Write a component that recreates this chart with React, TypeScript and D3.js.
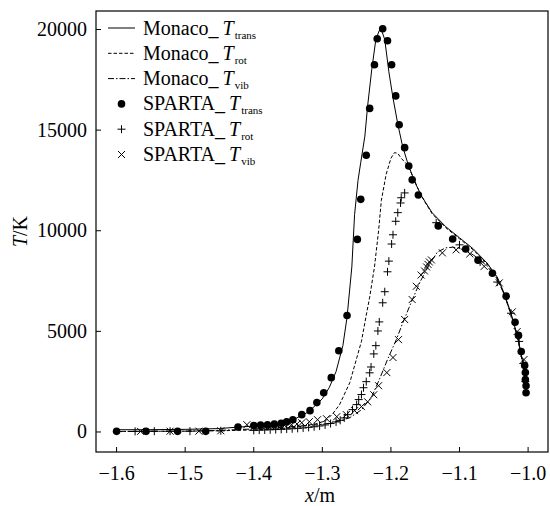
import React from 'react';
import * as d3 from 'd3';

// values: [x (m), T (K)]
const monacoTrans = [
  [-1.6, 110], [-1.55, 115], [-1.5, 130], [-1.45, 170], [-1.42, 250], [-1.4, 290], [-1.38, 350],
  [-1.36, 460], [-1.34, 650], [-1.32, 1000], [-1.3, 1650], [-1.29, 2200], [-1.28, 3000],
  [-1.27, 4300], [-1.264, 5700], [-1.257, 8200], [-1.253, 10800], [-1.248, 12500], [-1.244, 13400],
  [-1.238, 14700], [-1.234, 16200], [-1.228, 18000], [-1.222, 19500], [-1.217, 19950],
  [-1.213, 19900], [-1.209, 19500], [-1.203, 17900], [-1.197, 16600], [-1.19, 15300],
  [-1.183, 14200], [-1.175, 13300], [-1.165, 12400], [-1.155, 11700], [-1.14, 10900],
  [-1.12, 10200], [-1.1, 9650], [-1.08, 9100], [-1.06, 8400], [-1.045, 7700], [-1.035, 6900],
  [-1.025, 5900], [-1.015, 4700], [-1.008, 3500], [-1.004, 2600], [-1.002, 1900],
];

const monacoRot = [
  [-1.6, 30], [-1.5, 40], [-1.45, 60], [-1.4, 100], [-1.36, 170], [-1.33, 280], [-1.31, 400],
  [-1.295, 560], [-1.285, 900], [-1.275, 1350], [-1.26, 2450], [-1.248, 3900], [-1.243, 4500],
  [-1.236, 5800], [-1.231, 6700], [-1.224, 8200], [-1.218, 10000], [-1.214, 11500],
  [-1.207, 12800], [-1.2, 13600], [-1.195, 13880], [-1.19, 13850], [-1.185, 13600],
  [-1.178, 13350], [-1.17, 12850], [-1.16, 12050], [-1.15, 11400], [-1.14, 10850],
  [-1.12, 10150], [-1.1, 9600], [-1.08, 9050], [-1.06, 8350], [-1.045, 7650], [-1.035, 6850],
  [-1.025, 5850], [-1.015, 4650], [-1.008, 3450], [-1.004, 2550], [-1.002, 1900],
];

const monacoVib = [
  [-1.6, 20], [-1.5, 40], [-1.45, 80], [-1.4, 150], [-1.35, 250], [-1.3, 380], [-1.285, 460],
  [-1.27, 600], [-1.26, 710], [-1.243, 1100], [-1.228, 1750], [-1.217, 2600], [-1.205, 3600],
  [-1.192, 4600], [-1.183, 5400], [-1.173, 6230], [-1.158, 7430], [-1.144, 8330],
  [-1.132, 8950], [-1.12, 9150], [-1.11, 9180], [-1.1, 9120], [-1.09, 9000], [-1.08, 8800],
  [-1.07, 8550], [-1.06, 8250], [-1.045, 7600], [-1.035, 6850], [-1.025, 5850],
  [-1.015, 4650], [-1.008, 3450], [-1.004, 2550], [-1.002, 1900],
];

const spartaTrans = [
  [-1.6, 30], [-1.557, 30], [-1.511, 30], [-1.47, 30], [-1.423, 250], [-1.4, 320], [-1.39, 340],
  [-1.38, 360], [-1.37, 390], [-1.36, 430], [-1.352, 500], [-1.343, 610], [-1.33, 860],
  [-1.318, 1060], [-1.308, 1460], [-1.298, 1950], [-1.287, 2700], [-1.276, 4040],
  [-1.264, 5790], [-1.249, 9570], [-1.244, 11560], [-1.236, 13750], [-1.231, 16080],
  [-1.224, 18250], [-1.22, 19540], [-1.212, 20040], [-1.205, 19440], [-1.199, 18250],
  [-1.193, 16700], [-1.188, 15270], [-1.18, 14130], [-1.174, 13220], [-1.169, 12530],
  [-1.16, 11780], [-1.131, 10240], [-1.11, 9590], [-1.091, 9090], [-1.073, 8540],
  [-1.052, 7890], [-1.032, 6750], [-1.019, 5450], [-1.014, 4800], [-1.01, 4000],
  [-1.005, 3300], [-1.004, 2950], [-1.004, 2600], [-1.003, 2300], [-1.003, 1950],
];

const spartaRot = [
  [-1.573, 30], [-1.545, 40], [-1.522, 40], [-1.493, 40], [-1.448, 60],
  [-1.4, 80], [-1.392, 90], [-1.384, 100], [-1.376, 110], [-1.368, 120], [-1.36, 130],
  [-1.352, 145], [-1.344, 160], [-1.336, 180], [-1.328, 200], [-1.32, 230], [-1.312, 260],
  [-1.304, 300], [-1.296, 350], [-1.288, 420], [-1.28, 500], [-1.274, 580], [-1.268, 700],
  [-1.263, 860], [-1.256, 1110], [-1.25, 1360], [-1.247, 1610], [-1.243, 1860], [-1.24, 2200],
  [-1.236, 2500], [-1.231, 2940], [-1.229, 3230], [-1.225, 3880], [-1.222, 4290],
  [-1.219, 5020], [-1.217, 5470], [-1.212, 6420], [-1.209, 6970], [-1.205, 7960],
  [-1.203, 8490], [-1.199, 9340], [-1.197, 9800], [-1.193, 10470], [-1.19, 10900],
  [-1.186, 11380], [-1.185, 11640], [-1.18, 11880],
  [-1.134, 10400], [-1.1, 9300], [-1.07, 8450], [-1.045, 7450], [-1.025, 5900],
  [-1.013, 4500], [-1.007, 3400], [-1.004, 2500],
];

const spartaVib = [
  [-1.565, 30], [-1.522, 40], [-1.48, 40], [-1.448, 60], [-1.41, 360],
  [-1.395, 300], [-1.385, 290], [-1.375, 300], [-1.365, 310], [-1.355, 330], [-1.345, 360],
  [-1.337, 400], [-1.33, 460], [-1.319, 510], [-1.307, 610], [-1.294, 660], [-1.279, 760],
  [-1.265, 860], [-1.253, 1060], [-1.243, 1260], [-1.234, 1500], [-1.225, 1850],
  [-1.218, 2300], [-1.206, 2950], [-1.197, 3700], [-1.189, 4590], [-1.18, 5590],
  [-1.169, 6580], [-1.163, 7240], [-1.156, 7800], [-1.151, 8000], [-1.148, 8200],
  [-1.146, 8330], [-1.144, 8450], [-1.141, 8550], [-1.125, 8900], [-1.105, 9050],
  [-1.085, 8850], [-1.064, 8230], [-1.042, 7410], [-1.023, 5970], [-1.016, 4990],
  [-1.006, 3600],
];

const xTicks = [-1.6, -1.5, -1.4, -1.3, -1.2, -1.1, -1.0];
const yTicks = [0, 5000, 10000, 15000, 20000];

const legendItems = [
  { name: 'Monaco_', sub: 'trans', kind: 'solid' },
  { name: 'Monaco_', sub: 'rot', kind: 'dash' },
  { name: 'Monaco_', sub: 'vib', kind: 'dashdot' },
  { name: 'SPARTA_', sub: 'trans', kind: 'dot' },
  { name: 'SPARTA_', sub: 'rot', kind: 'plus' },
  { name: 'SPARTA_', sub: 'vib', kind: 'cross' },
];

const W = 550;
const H = 506;
const margin = { left: 96, right: 2, top: 11, bottom: 54 };
const serif = { fontFamily: "'Liberation Serif'" };

const dashes: Record<string, string | undefined> = {
  solid: undefined,
  dash: '3.5,2',
  dashdot: '6,2,1.5,2',
};

const Plus = ({ cx, cy }: { cx: number; cy: number }) => (
  <path d={`M${cx - 4},${cy}H${cx + 4}M${cx},${cy - 4}V${cy + 4}`} stroke="#000" strokeWidth={1} />
);
const Cross = ({ cx, cy }: { cx: number; cy: number }) => (
  <path d={`M${cx - 3.5},${cy - 3.5}L${cx + 3.5},${cy + 3.5}M${cx - 3.5},${cy + 3.5}L${cx + 3.5},${cy - 3.5}`} stroke="#000" strokeWidth={1} />
);

export default function App() {
  const x = d3.scaleLinear().domain([-1.63, -0.971]).range([margin.left, W - margin.right]);
  const y = d3.scaleLinear().domain([-995, 20920]).range([H - margin.bottom, margin.top]);
  const line = d3.line<number[]>().x((d) => x(d[0])).y((d) => y(d[1]));

  const x0 = margin.left;
  const x1 = W - margin.right;
  const y0 = H - margin.bottom;
  const y1 = margin.top;

  return (
    <svg width={W} height={H} style={{ position: 'absolute', left: 0, top: 0, background: '#fff' }}>
      {/* lines */}
      {[
        { data: monacoTrans, kind: 'solid' },
        { data: monacoRot, kind: 'dash' },
        { data: monacoVib, kind: 'dashdot' },
      ].map((s, i) => (
        <path key={i} d={line(s.data) || ''} fill="none" stroke="#000" strokeWidth={1} strokeDasharray={dashes[s.kind]} />
      ))}

      {/* SPARTA markers */}
      {spartaVib.map((d, i) => <Cross key={'v' + i} cx={x(d[0])} cy={y(d[1])} />)}
      {spartaRot.map((d, i) => <Plus key={'r' + i} cx={x(d[0])} cy={y(d[1])} />)}
      {spartaTrans.map((d, i) => <circle key={'t' + i} cx={x(d[0])} cy={y(d[1])} r={3.8} fill="#000" />)}

      {/* frame */}
      <rect x={x0} y={y1} width={x1 - x0} height={y0 - y1} fill="none" stroke="#000" strokeWidth={1.2} />

      {/* x axis */}
      {xTicks.map((t) => (
        <g key={t}>
          <line x1={x(t)} x2={x(t)} y1={y0} y2={y0 - 5} stroke="#000" />
          <text x={x(t)} y={y0 + 28} textAnchor="middle" fontSize={20} style={serif}>
            {d3.format('.1f')(t).replace('-', '\u2212')}
          </text>
        </g>
      ))}
      <text x={(x0 + x1) / 2 - 2} y={H - 4} textAnchor="middle" fontSize={20} style={serif}>
        <tspan fontStyle="italic">x</tspan>/m
      </text>

      {/* y axis */}
      {yTicks.map((t) => (
        <g key={t}>
          <line x1={x0} x2={x0 + 5} y1={y(t)} y2={y(t)} stroke="#000" />
          <text x={x0 - 9} y={y(t) + 6.5} textAnchor="end" fontSize={20} style={serif}>{t}</text>
        </g>
      ))}
      <text transform={`translate(27,${(y0 + y1) / 2}) rotate(-90)`} textAnchor="middle" fontSize={20} style={serif}>
        <tspan fontStyle="italic">T</tspan>/K
      </text>

      {/* legend */}
      {legendItems.map((it, i) => {
        const cy = 28 + i * 25.3;
        const lx0 = 108;
        const lx1 = 135;
        let marker;
        if (it.kind === 'dot') marker = <circle cx={(lx0 + lx1) / 2} cy={cy} r={3.8} fill="#000" />;
        else if (it.kind === 'plus') marker = <Plus cx={(lx0 + lx1) / 2} cy={cy} />;
        else if (it.kind === 'cross') marker = <Cross cx={(lx0 + lx1) / 2} cy={cy} />;
        else marker = <line x1={lx0} x2={lx1} y1={cy} y2={cy} stroke="#000" strokeDasharray={dashes[it.kind]} />;
        return (
          <g key={i}>
            {marker}
            <text x={143} y={cy + 6.5} fontSize={20} style={serif}>
              {it.name}
              <tspan fontStyle="italic" dx={4}>T</tspan>
              <tspan fontSize={11} dy={4} dx={1}>{it.sub}</tspan>
            </text>
          </g>
        );
      })}
    </svg>
  );
}
